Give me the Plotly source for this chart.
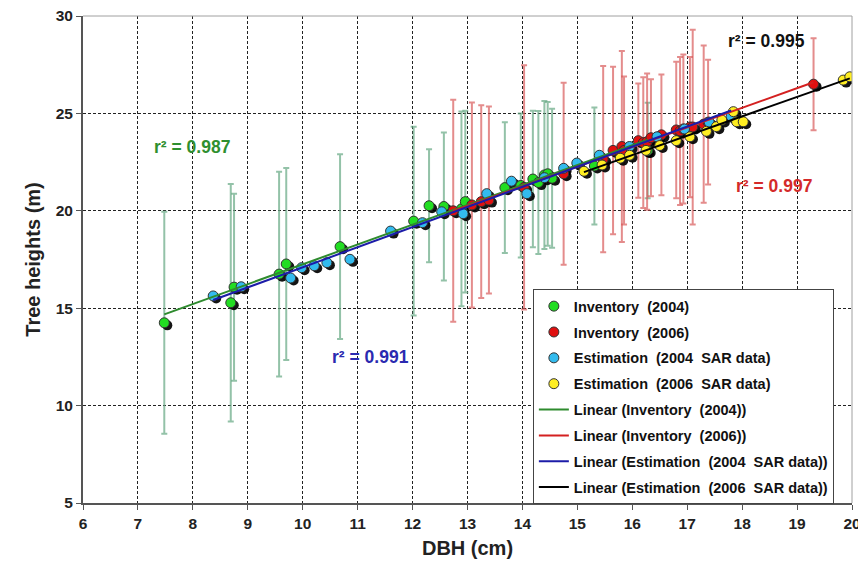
import numpy as np
import plotly.graph_objects as go

# ---------------- data ----------------
inv04_x = [7.48, 8.69, 8.75, 9.57, 9.70, 10.68, 12.02, 12.30, 12.57, 12.89, 12.96, 13.68,
           13.97, 14.19, 14.29, 14.40, 14.46, 14.54, 15.31, 16.28]
inv04_y = [14.25, 15.28, 16.08, 16.75, 17.27, 18.16, 19.47, 20.26, 20.22, 20.10, 20.47, 21.19,
           21.30, 21.63, 21.45, 21.84, 21.90, 21.67, 22.30, 23.10]
inv04_err = [5.7, 6.1, 4.8, 5.26, 4.93, 4.74, 4.85, 2.9, 3.8, 5.0, 4.66, 3.35,
             3.7, 3.5, 3.67, 3.8, 3.69, 3.57, 3.0, 2.45]

inv06_x = [12.74, 13.08, 13.25, 13.39, 14.03, 14.75, 15.47, 15.65, 15.81, 15.85, 16.11, 16.20,
           16.27, 16.34, 16.53, 16.80, 16.87, 16.93, 17.05, 17.10, 17.30, 17.38, 19.30]
inv06_y = [20.00, 20.30, 20.47, 20.55, 21.20, 21.90, 22.65, 23.10, 23.30, 23.10, 23.60, 23.50,
           23.55, 23.75, 23.90, 24.15, 24.10, 24.20, 24.30, 24.30, 24.45, 24.55, 26.50]
inv06_err = [5.7, 5.26, 4.95, 4.8, 6.27, 4.67, 4.78, 4.3, 4.9, 3.8, 2.93, 3.35,
             3.5, 3.0, 3.1, 3.5, 3.8, 3.83, 3.6, 5.0, 4.04, 3.2, 2.36]

est04_x = [8.37, 8.88, 9.78, 9.98, 10.21, 10.44, 10.86, 11.60, 12.18, 12.53, 12.92, 13.35,
           13.80, 14.08, 14.40, 14.75, 14.99, 15.40, 15.95, 16.45, 16.95, 17.40, 17.80]
est04_y = [15.63, 16.10, 16.55, 17.08, 17.18, 17.34, 17.51, 18.96, 19.39, 19.95, 19.85, 20.88,
           21.52, 20.88, 21.70, 22.18, 22.45, 22.85, 23.30, 23.80, 24.20, 24.55, 24.85]

est06_x = [15.12, 15.45, 15.78, 15.95, 16.25, 16.50, 16.80, 17.05, 17.35, 17.53, 17.63, 17.84,
           17.90, 18.02, 19.84, 19.96]
est06_y = [22.03, 22.35, 22.70, 22.85, 23.10, 23.35, 23.60, 23.80, 24.08, 24.32, 24.66, 25.09,
           24.57, 24.57, 26.71, 26.88]

r2_labels = ["r² = 0.987", "r² = 0.991", "r² = 0.995", "r² = 0.997"]
r2_pos_x = [7.98, 11.24, 18.45, 18.58]
r2_pos_y = [23.27, 12.49, 28.72, 21.27]

x_ticks = list(range(6, 21))
y_ticks = [5, 10, 15, 20, 25, 30]

# ---------------- styles ----------------
FONT = "Liberation Sans, Arial, sans-serif"
series = [
    dict(name="Inventory  (2004)", x=inv04_x, y=inv04_y, err=inv04_err,
         color="#22dd22", errcolor="rgba(105,170,135,0.72)", line="#2e8b2e",
         lname="Linear (Inventory  (2004))"),
    dict(name="Inventory  (2006)", x=inv06_x, y=inv06_y, err=inv06_err,
         color="#e01010", errcolor="rgba(215,85,85,0.68)", line="#d42020",
         lname="Linear (Inventory  (2006))"),
    dict(name="Estimation  (2004  SAR data)", x=est04_x, y=est04_y, err=None,
         color="#33bbee", errcolor=None, line="#1c1ca8",
         lname="Linear (Estimation  (2004  SAR data))"),
    dict(name="Estimation  (2006  SAR data)", x=est06_x, y=est06_y, err=None,
         color="#ffee22", errcolor=None, line="#000000",
         lname="Linear (Estimation  (2006  SAR data))"),
]
r2_colors = ["#2f8f2f", "#2a2ab0", "#111111", "#d42a2a"]

fig = go.Figure()

# error bars (behind everything)
for s in series:
    if s["err"] is None:
        continue
    fig.add_trace(go.Scatter(
        x=s["x"], y=s["y"], mode="markers",
        marker=dict(size=1, color="rgba(0,0,0,0)"),
        error_y=dict(type="data", array=s["err"], visible=True,
                     color=s["errcolor"], thickness=2, width=3),
        showlegend=False, hoverinfo="skip"))

# shadows
for s in series:
    xs = np.array(s["x"]) + 0.055
    ys = np.array(s["y"]) - 0.13
    fig.add_trace(go.Scatter(
        x=xs, y=ys, mode="markers",
        marker=dict(size=10, color="rgba(0,0,0,0.92)", line=dict(width=0)),
        showlegend=False, hoverinfo="skip"))

# points
for i, s in enumerate(series):
    fig.add_trace(go.Scatter(
        x=s["x"], y=s["y"], mode="markers", name=s["name"],
        legendgroup=f"g{i}",
        marker=dict(size=10, color=s["color"], line=dict(width=1, color="#333333"))))

# trend lines
for i, s in enumerate(series):
    xa = np.array(s["x"])
    ya = np.array(s["y"])
    k, b = np.polyfit(xa, ya, 1)
    xl = np.array([xa.min(), xa.max()])
    fig.add_trace(go.Scatter(
        x=xl, y=k * xl + b, mode="lines", name=s["lname"],
        legendgroup=f"l{i}",
        line=dict(color=s["line"], width=2)))

for t, xx, yy, c in zip(r2_labels, r2_pos_x, r2_pos_y, r2_colors):
    fig.add_annotation(x=xx, y=yy, text=t, showarrow=False,
                       font=dict(family=FONT, size=17.5, color=c, weight="bold"))

# top / right frame lines
fig.add_shape(type="line", xref="paper", yref="paper", x0=0, x1=1, y0=1, y1=1,
              line=dict(color="#a0a0a0", width=1))
fig.add_shape(type="line", xref="paper", yref="paper", x0=1, x1=1, y0=0, y1=1,
              line=dict(color="#a0a0a0", width=1))

axis_common = dict(
    showgrid=True, gridcolor="#222222", gridwidth=1, griddash="3px,2px",
    zeroline=False, showline=True, linecolor="#555555", linewidth=2,
    ticks="outside", ticklen=5, tickcolor="#555555", tickwidth=1,
    automargin=False, ticklabeloverflow="allow",
    tickfont=dict(family=FONT, size=15.5, color="#222222", weight="bold"),
)

# the page body adds an 8px offset, so the figure is sized to fit the window
fig.update_layout(
    width=858, height=555,
    margin=dict(l=75, r=14, t=8, b=60),
    paper_bgcolor="white", plot_bgcolor="white",
    font=dict(family=FONT),
    xaxis=dict(range=[6, 20], tickvals=x_ticks,
               title=dict(text="DBH (cm)", standoff=10,
                          font=dict(family=FONT, size=20, color="#222222", weight="bold")),
               **axis_common),
    yaxis=dict(range=[5, 30], tickvals=y_ticks,
               title=dict(text="Tree heights (m)", standoff=10,
                          font=dict(family=FONT, size=20, color="#222222", weight="bold")),
               **axis_common),
    legend=dict(x=0.585, y=0.439, xanchor="left", yanchor="top",
                bgcolor="white", bordercolor="#444444", borderwidth=1,
                traceorder="grouped", tracegroupgap=4,
                font=dict(family=FONT, size=14.5, color="#111111", weight="bold")),
    showlegend=True,
)

fig.write_html("out.html")
